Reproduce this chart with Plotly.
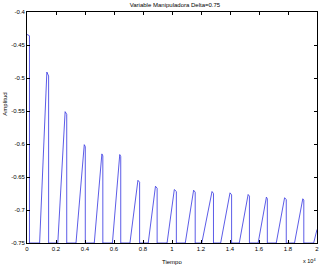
import plotly.graph_objects as go

# ---- data ----
floor_value = -0.75
# first segment (starts high at t=0)
start_time = [0, 110]
start_value = [-0.434, -0.436]
start_drop_time = 170
# repeating cycles: rise start (crossing floor), peak, end of plateau, drop
rise_time = [870, 2125, 3380, 4640, 5890, 7100, 8360, 9660, 10915, 12055, 13355, 14640, 15940, 17190, 18450]
peak_time = [1370, 2630, 3950, 5164, 6397, 7650, 8860, 10160, 11490, 12760, 14000, 15250, 16510, 17765, 19020]
peak_value = [-0.491, -0.551, -0.601, -0.615, -0.616, -0.655, -0.664, -0.669, -0.670, -0.672, -0.674, -0.6765, -0.6805, -0.6815, -0.683]
drop_time = [1490, 2740, 4020, 5230, 6465, 7767, 8975, 10300, 11600, 12860, 14110, 15340, 16575, 17880, 19090]
plateau_end_value = [-0.497, -0.555, -0.604, -0.618, -0.619, -0.658, -0.667, -0.672, -0.673, -0.675, -0.677, -0.679, -0.683, -0.684, -0.685]
# final partial rise
last_rise_time = [19770, 20000]
last_rise_value = [-0.75, -0.7295]

x_tickvals = [0, 2000, 4000, 6000, 8000, 10000, 12000, 14000, 16000, 18000, 20000]
x_ticktext = ["0", "0.2", "0.4", "0.6", "0.8", "1", "1.2", "1.4", "1.6", "1.8", "2"]
y_tickvals = [-0.75, -0.7, -0.65, -0.6, -0.55, -0.5, -0.45, -0.4]
y_ticktext = ["-0.75", "-0.7", "-0.65", "-0.6", "-0.55", "-0.5", "-0.45", "-0.4"]

# ---- build polyline ----
t = list(start_time) + [start_drop_time, start_drop_time]
y = list(start_value) + [start_value[-1], floor_value]
for rt, pt, pv, dt, ev in zip(rise_time, peak_time, peak_value, drop_time, plateau_end_value):
    t += [rt, pt, dt, dt]
    y += [floor_value, pv, ev, floor_value]
t += last_rise_time
y += last_rise_value

fig = go.Figure()
fig.add_trace(go.Scatter(x=t, y=y, mode="lines",
                         line=dict(color="rgb(50,50,225)", width=0.8),
                         hoverinfo="skip", showlegend=False))

font = dict(family="Liberation Sans, Arial, sans-serif", size=6, color="black")
fig.update_layout(
    width=324, height=267,
    margin=dict(l=27, r=5, t=12, b=24),
    paper_bgcolor="white", plot_bgcolor="white",
    font=font,
    title=dict(text="Variable Manipuladora Delta=0.75", x=0.54, xanchor="center",
               y=0.982, yanchor="middle", yref="container", font=dict(size=6)),
    xaxis=dict(range=[0, 20000], tickvals=x_tickvals, ticktext=x_ticktext,
               ticks="inside", ticklen=3, tickwidth=0.8, tickcolor="black",
               showline=True, linecolor="black", linewidth=0.8, mirror="ticks",
               showgrid=False, zeroline=False, tickfont=dict(size=6)),
    yaxis=dict(range=[-0.75, -0.4], tickvals=y_tickvals, ticktext=y_ticktext,
               ticks="inside", ticklen=3, tickwidth=0.8, tickcolor="black",
               showline=True, linecolor="black", linewidth=0.8, mirror="ticks",
               showgrid=False, zeroline=False, tickfont=dict(size=6)),
    annotations=[
        dict(text="Tiempo", xref="paper", yref="paper", x=0.5, y=-0.06,
             xanchor="center", yanchor="top", showarrow=False, font=dict(size=6)),
        dict(text="Amplitud", xref="paper", yref="paper", x=-0.075, y=0.6,
             xanchor="center", yanchor="middle", textangle=-90, showarrow=False,
             font=dict(size=6)),
        dict(text="x 10<sup>4</sup>", xref="paper", yref="paper", x=0.975, y=-0.078,
             xanchor="center", yanchor="middle", showarrow=False, font=dict(size=5.5)),
    ],
)
fig.write_html("out.html")
